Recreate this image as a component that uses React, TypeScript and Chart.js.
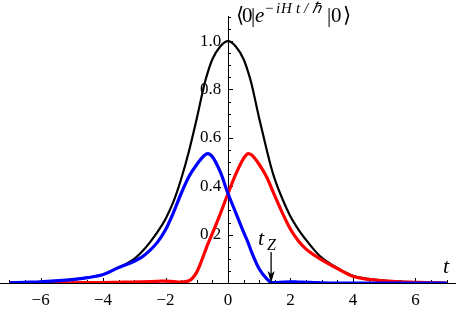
import React, { useEffect, useRef } from "react";
import { Chart, registerables } from "chart.js";

Chart.register(...registerables);

// time axis samples
const tValues = [-7, -6.5, -6, -5.5, -5, -4.5, -4, -3.5, -3, -2.75, -2.5, -2.25, -2, -1.75, -1.5, -1.25, -1, -0.75, -0.65, -0.5, -0.25, 0, 0.25, 0.5, 0.65, 0.75, 1, 1.25, 1.4, 1.5, 1.75, 2, 2.25, 2.5, 2.75, 3, 3.5, 4, 4.5, 5, 5.5, 6, 6.5, 7];

// |<0|e^{-iHt/hbar}|0>| (black)
const blackValues = [0.001, 0.003, 0.005, 0.009, 0.014, 0.022, 0.035, 0.064, 0.1, 0.13, 0.168, 0.212, 0.265, 0.335, 0.43, 0.545, 0.68, 0.825, 0.87, 0.925, 0.978, 1.0, 0.978, 0.925, 0.87, 0.825, 0.68, 0.545, 0.47, 0.428, 0.345, 0.275, 0.222, 0.178, 0.138, 0.105, 0.062, 0.03, 0.017, 0.01, 0.006, 0.003, 0.001, 0];

// blue curve
const blueValues = [0.001, 0.003, 0.005, 0.009, 0.014, 0.022, 0.035, 0.064, 0.09, 0.108, 0.135, 0.17, 0.22, 0.29, 0.37, 0.44, 0.49, 0.528, 0.535, 0.522, 0.46, 0.37, 0.29, 0.21, 0.165, 0.13, 0.058, 0.016, 0.002, 0.002, 0.004, 0.005, 0.004, 0.003, 0.002, 0.001, 0, 0, 0, 0, 0, 0, 0, 0];

// red curve
const redValues = [0, 0, 0, 0.001, 0.001, 0.002, 0.002, 0.003, 0.004, 0.005, 0.006, 0.007, 0.008, 0.006, 0.004, 0.009, 0.045, 0.125, 0.16, 0.205, 0.285, 0.37, 0.45, 0.515, 0.535, 0.53, 0.49, 0.435, 0.39, 0.36, 0.287, 0.222, 0.175, 0.14, 0.116, 0.096, 0.06, 0.028, 0.015, 0.009, 0.005, 0.003, 0.001, 0];

const xTickLabels = [-6, -4, -2, 0, 2, 4, 6];
const yTickLabels = [0.2, 0.4, 0.6, 0.8, 1.0];
const tZ = 1.38;

const SERIF = '"Liberation Serif", serif';

const decorPlugin = {
  id: "decor",
  beforeDatasetsDraw(chart: any) {
    const { ctx, scales } = chart;
    const xs = scales.x;
    const ys = scales.y;
    const x0 = xs.getPixelForValue(0);
    const y0 = ys.getPixelForValue(0);
    ctx.save();
    ctx.strokeStyle = "#000";
    ctx.lineWidth = 1;
    ctx.beginPath();
    for (let k = -14; k <= 14; k++) {
      const v = k / 2;
      const px = Math.round(xs.getPixelForValue(v)) + 0.5;
      const len = k % 4 === 0 ? 5 : 3;
      ctx.moveTo(px, y0);
      ctx.lineTo(px, y0 - len);
    }
    for (let k = 1; k <= 22; k++) {
      const v = k * 0.05;
      const py = Math.round(ys.getPixelForValue(v)) + 0.5;
      const len = k % 4 === 0 ? 5 : 3;
      ctx.moveTo(x0, py);
      ctx.lineTo(x0 + len, py);
    }
    ctx.stroke();
    ctx.restore();
  },
  afterDraw(chart: any) {
    const { ctx, scales } = chart;
    const xs = scales.x;
    const ys = scales.y;
    ctx.save();
    ctx.fillStyle = "#000";
    ctx.textBaseline = "alphabetic";
    ctx.textAlign = "left";
    // title: <0|e^{-iHt/hbar}|0>
    const main = `21px ${SERIF}`;
    const mainIt = `italic 21px ${SERIF}`;
    const sup = `italic 15px ${SERIF}`;
    const supR = `15px ${SERIF}`;
    const by = 22;
    const sy = 13;
    const pieces: [string, string, number, number][] = [
      ["\u27E8", main, 236, by],
      ["0", main, 242, by],
      ["|", main, 251, by],
      ["e", mainIt, 255, by],
      ["\u2212", supR, 265, sy],
      ["i", sup, 276, sy],
      ["H", sup, 281, sy],
      ["t", sup, 296, sy],
      ["/", sup, 304, sy],
      ["\u210F", sup, 312, sy],
      ["|", main, 327, by],
      ["0", main, 331, by],
      ["\u27E9", main, 343, by],
    ];
    for (const [s, f, x, y] of pieces) {
      ctx.font = f;
      ctx.fillText(s, x, y);
    }
    // axis label t
    ctx.font = `italic 22px ${SERIF}`;
    ctx.fillText("t", 443, 273);
    // t_Z annotation
    const ax = xs.getPixelForValue(tZ);
    const ay = ys.getPixelForValue(0);
    ctx.font = `italic 22px ${SERIF}`;
    ctx.fillText("t", ax - 13, 245);
    ctx.font = `italic 16px ${SERIF}`;
    ctx.fillText("Z", ax - 4, 250);
    ctx.strokeStyle = "#000";
    ctx.lineWidth = 1.3;
    ctx.beginPath();
    ctx.moveTo(ax, 252);
    ctx.lineTo(ax, ay - 8);
    ctx.stroke();
    ctx.beginPath();
    ctx.moveTo(ax, ay);
    ctx.lineTo(ax - 3.5, ay - 12);
    ctx.lineTo(ax, ay - 9);
    ctx.lineTo(ax + 3.5, ay - 12);
    ctx.closePath();
    ctx.fill();
    ctx.restore();
  },
};

export default function App() {
  const ref = useRef<HTMLCanvasElement | null>(null);
  useEffect(() => {
    if (!ref.current) return;
    const mk = (vals: number[]) => tValues.map((t, i) => ({ x: t, y: vals[i] }));
    const chart = new Chart(ref.current, {
      type: "line",
      data: {
        datasets: [
          { label: "total", data: mk(blackValues), borderColor: "#000", borderWidth: 2.2, order: 3 },
          { label: "red", data: mk(redValues), borderColor: "#ff0000", borderWidth: 3.2, order: 2 },
          { label: "blue", data: mk(blueValues), borderColor: "#0000ff", borderWidth: 3.2, order: 1 },
        ],
      },
      options: {
        animation: false,
        responsive: false,
        devicePixelRatio: 1,
        layout: { padding: { left: 0, right: 0, top: 0, bottom: 29 } },
        elements: {
          point: { radius: 0, hoverRadius: 0 },
          line: { cubicInterpolationMode: "monotone", fill: false },
        },
        plugins: { legend: { display: false }, tooltip: { enabled: false }, title: { display: false } },
        scales: {
          x: {
            type: "linear",
            min: -7.3,
            max: 7.3,
            position: { y: 0 },
            grid: { display: false, drawTicks: false },
            border: { display: true, color: "#000", width: 1 },
            afterBuildTicks: (s: any) => {
              s.ticks = xTickLabels.map((v) => ({ value: v }));
            },
            ticks: {
              color: "#000",
              font: { family: SERIF, size: 17 },
              padding: 7,
              maxRotation: 0,
              autoSkip: false,
              callback: (v: any) => (Number(v) < 0 ? "\u2212" + Math.abs(Number(v)) : String(v)),
            },
          },
          y: {
            type: "linear",
            min: 0,
            max: 1.103,
            position: { x: 0 },
            grid: { display: false, drawTicks: false },
            border: { display: true, color: "#000", width: 1 },
            afterBuildTicks: (s: any) => {
              s.ticks = yTickLabels.map((v) => ({ value: v }));
            },
            ticks: {
              color: "#000",
              font: { family: SERIF, size: 17 },
              padding: 6,
              autoSkip: false,
              callback: (v: any) => Number(v).toFixed(1) + "\u2009\u2009",
            },
          },
        },
      },
      plugins: [decorPlugin],
    } as any);
    return () => chart.destroy();
  }, []);
  return (
    <div style={{ position: "absolute", left: 0, top: 0, width: 456, height: 312 }}>
      <canvas ref={ref} width={456} height={312} />
    </div>
  );
}
